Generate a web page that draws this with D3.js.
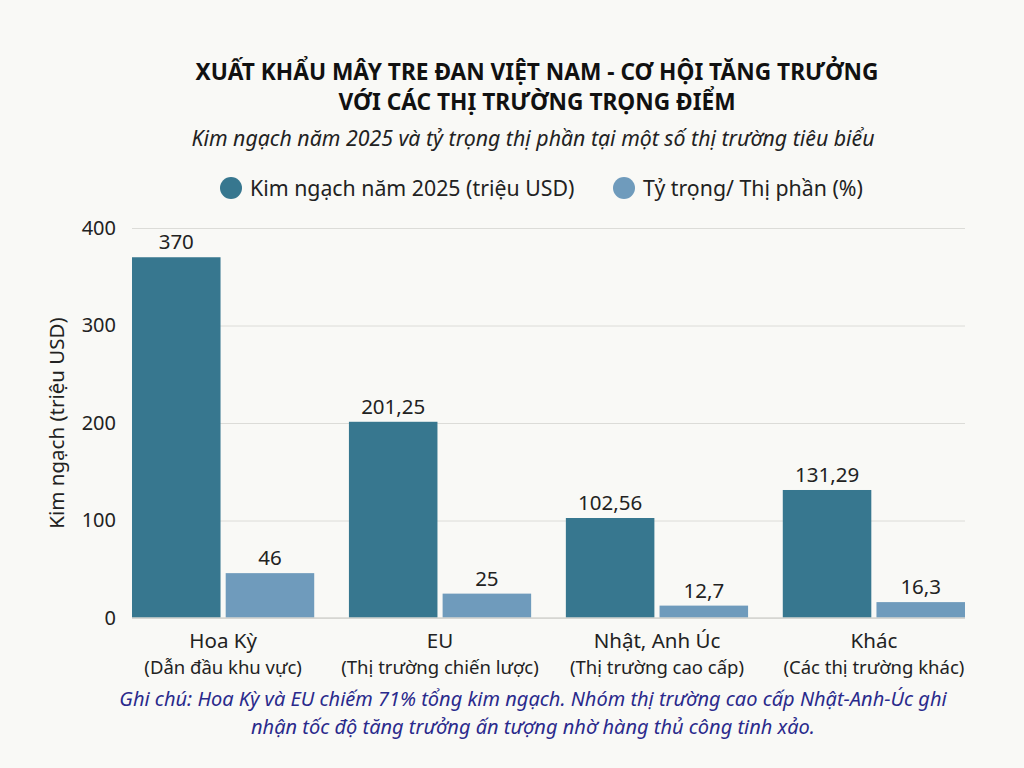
<!DOCTYPE html>
<meta charset="utf-8">
<script src="https://d3js.org/d3.v7.min.js"></script>
<style>
  body { margin: 0; background: #f9f9f6; }
  svg { font-family: "Noto Sans", "Open Sans", sans-serif; }
</style>
<div id="chart"></div>
<script>
  // data
  const markets = ["Hoa Kỳ", "EU", "Nhật, Anh Úc", "Khác"];
  const marketNotes = ["(Dẫn đầu khu vực)", "(Thị trường chiến lược)", "(Thị trường cao cấp)", "(Các thị trường khác)"];
  const seriesNames = ["Kim ngạch năm 2025 (triệu USD)", "Tỷ trọng/ Thị phần (%)"];
  const turnover = [370, 201.25, 102.56, 131.29];
  const share = [46, 25, 12.7, 16.3];
  const yTicks = [0, 100, 200, 300, 400];
  const colors = ["#37778f", "#6f9bbc"];

  const W = 1024, H = 768;
  const margin = {top: 228, right: 59, bottom: 150, left: 132};
  const width = W - margin.left - margin.right,
        height = H - margin.top - margin.bottom;

  const svg = d3.select("#chart").append("svg")
      .attr("width", W).attr("height", H);
  svg.append("rect").attr("width", W).attr("height", H).attr("fill", "#f9f9f6");

  // titles
  svg.append("text").attr("x", 537).attr("y", 80).attr("text-anchor", "middle")
    .attr("font-size", 22.7).attr("font-weight", "bold").attr("fill", "#111")
    .text("XUẤT KHẨU MÂY TRE ĐAN VIỆT NAM - CƠ HỘI TĂNG TRƯỞNG");
  svg.append("text").attr("x", 537).attr("y", 110).attr("text-anchor", "middle")
    .attr("font-size", 22.7).attr("font-weight", "bold").attr("fill", "#111")
    .text("VỚI CÁC THỊ TRƯỜNG TRỌNG ĐIỂM");
  svg.append("text").attr("x", 533).attr("y", 146).attr("text-anchor", "middle")
    .attr("font-size", 21.3).attr("font-style", "italic").attr("fill", "#222")
    .text("Kim ngạch năm 2025 và tỷ trọng thị phần tại một số thị trường tiêu biểu");

  // legend
  const legendX = [231, 624];
  const legend = svg.append("g").selectAll("g")
    .data(seriesNames)
    .join("g")
      .attr("transform", (d, i) => `translate(${legendX[i]},188)`);
  legend.append("circle").attr("r", 11).attr("fill", (d, i) => colors[i]);
  legend.append("text").attr("x", 19).attr("y", 7.5)
    .attr("font-size", 21.3).attr("fill", "#222").text(d => d);

  const g = svg.append("g").attr("transform", `translate(${margin.left},${margin.top})`);

  const y = d3.scaleLinear().domain([0, 400]).range([height, 0]);
  const x0 = d3.scaleBand().domain(markets).range([0, width]).paddingInner(0.16).paddingOuter(0);
  const x1 = d3.scaleBand().domain([0, 1]).range([0, x0.bandwidth()]).paddingInner(0.055);

  // gridlines
  g.append("g")
    .call(d3.axisLeft(y).tickValues(yTicks).tickSize(-width).tickFormat(""))
    .call(a => a.select(".domain").remove())
    .call(a => a.selectAll("line").attr("stroke", "#dcdcd8").attr("stroke-width", 1));

  // y tick labels
  g.append("g")
    .call(d3.axisLeft(y).tickValues(yTicks).tickSize(0).tickPadding(16))
    .call(a => a.select(".domain").remove())
    .call(a => a.selectAll("text").attr("font-size", 20).attr("fill", "#222")
      .attr("font-family", "'Noto Sans', sans-serif"));

  svg.append("text")
    .attr("transform", `translate(64,${margin.top + height / 2}) rotate(-90)`)
    .attr("text-anchor", "middle").attr("font-size", 20.5).attr("fill", "#222")
    .text("Kim ngạch (triệu USD)");

  const rows = markets.map((m, i) => ({market: m, values: [turnover[i], share[i]]}));
  const fmt = v => String(v).replace(".", ",");

  const groups = g.append("g").selectAll("g")
    .data(rows)
    .join("g")
      .attr("transform", d => `translate(${x0(d.market)},0)`);

  groups.selectAll("rect")
    .data(d => d.values.map((v, k) => ({k, v})))
    .join("rect")
      .attr("x", d => x1(d.k))
      .attr("y", d => y(d.v))
      .attr("width", x1.bandwidth())
      .attr("height", d => height - y(d.v))
      .attr("fill", d => colors[d.k]);

  groups.selectAll("text.val")
    .data(d => d.values.map((v, k) => ({k, v})))
    .join("text")
      .attr("class", "val")
      .attr("x", d => x1(d.k) + x1.bandwidth() / 2)
      .attr("y", d => y(d.v) - 8)
      .attr("text-anchor", "middle")
      .attr("font-size", 20.5).attr("fill", "#222")
      .text(d => fmt(d.v));

  // baseline
  g.append("line").attr("x1", 0).attr("x2", width)
    .attr("y1", y(0)).attr("y2", y(0))
    .attr("stroke", "#d4d4d0").attr("stroke-width", 1.5);

  // x labels
  const xl = g.append("g").selectAll("g")
    .data(markets)
    .join("g")
      .attr("transform", d => `translate(${x0(d) + x0.bandwidth() / 2},${height})`);
  xl.append("text").attr("y", 30).attr("text-anchor", "middle")
    .attr("font-size", 20.5).attr("fill", "#222").text(d => d);
  xl.append("text").attr("y", 56).attr("text-anchor", "middle")
    .attr("font-size", 18.5).attr("fill", "#222").text((d, i) => marketNotes[i]);

  // footnote
  const note = ["Ghi chú: Hoa Kỳ và EU chiếm 71% tổng kim ngạch. Nhóm thị trường cao cấp Nhật-Anh-Úc ghi",
                "nhận tốc độ tăng trưởng ấn tượng nhờ hàng thủ công tinh xảo."];
  svg.append("g").selectAll("text")
    .data(note)
    .join("text")
      .attr("x", 533).attr("y", (d, i) => 706 + i * 28)
      .attr("text-anchor", "middle").attr("font-size", 20)
      .attr("font-style", "italic").attr("fill", "#2a2a8c")
      .text(d => d);
</script>
